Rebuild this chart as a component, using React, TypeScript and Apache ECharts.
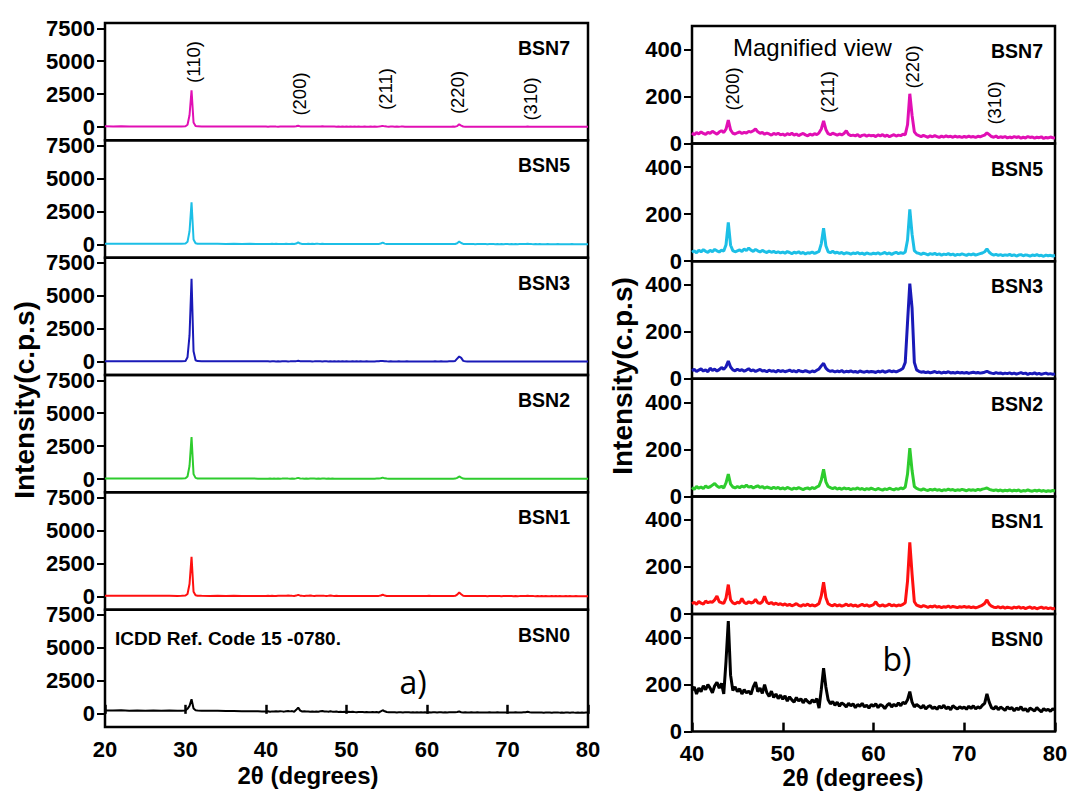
import React, { useEffect, useRef } from "react";
import * as echarts from "echarts";

// ---------- data ----------
const SAMPLES = ["BSN7", "BSN5", "BSN3", "BSN2", "BSN1", "BSN0"];
const COLORS = ["#e10fb4", "#1cbfe6", "#1a1ab8", "#2ecc2e", "#ff1010", "#000000"];

// 2θ points of the low-angle part (20–40°)
const X_WIDE = [20, 21, 22, 23, 24, 25, 26, 27, 28, 29, 29.5, 30, 30.25, 30.5, 30.75, 31, 31.25, 31.5, 32, 33, 34, 35, 36, 37, 38, 39, 39.5];
// scan of 40–80° with a 0.25° step
const FINE_START = 40;
const FINE_STEP = 0.25;

const BSN7_WIDE = [60, 55, 62, 50, 58, 52, 56, 48, 54, 50, 58, 70, 180, 900, 2800, 350, 90, 60, 52, 48, 55, 46, 50, 44, 49, 45, 43];
const BSN5_WIDE = [55, 60, 50, 57, 48, 54, 51, 47, 53, 49, 55, 68, 200, 1000, 3200, 380, 95, 58, 50, 47, 52, 45, 48, 43, 47, 42, 41];
const BSN3_WIDE = [50, 45, 52, 44, 48, 42, 47, 43, 46, 41, 48, 65, 350, 2000, 6300, 800, 120, 55, 45, 42, 46, 40, 43, 38, 42, 37, 36];
const BSN2_WIDE = [52, 48, 55, 46, 50, 44, 49, 45, 47, 43, 50, 66, 200, 1000, 3200, 380, 95, 56, 48, 44, 47, 42, 45, 40, 44, 39, 38];
const BSN1_WIDE = [58, 52, 60, 50, 55, 48, 53, 47, 51, 46, 54, 70, 190, 950, 3000, 360, 92, 58, 50, 46, 49, 44, 47, 42, 46, 43, 44];
const BSN0_WIDE = [260, 245, 270, 240, 255, 235, 250, 230, 245, 225, 240, 260, 380, 600, 1100, 400, 270, 250, 240, 230, 225, 215, 210, 200, 195, 188, 182];

const BSN7_FINE = [
  45, 38, 47, 41, 50, 43, 39, 48, 44, 52, 46, 40, 49, 55, 47, 62, 100, 58, 44, 41,
  46, 50, 43, 48, 45, 52, 49, 55, 62, 50, 44, 47, 40, 45, 41, 36, 43, 39, 44, 37,
  40, 35, 42, 38, 44, 36, 41, 34, 39, 43, 37, 33, 40, 36, 42, 38, 46, 62, 97, 60,
  42, 38, 44, 40, 36, 41, 37, 43, 55, 39, 34, 36, 33, 38, 30, 35, 37, 32, 36, 33,
  35, 30, 37, 33, 38, 31, 36, 29, 34, 38, 32, 36, 34, 40, 38, 80, 212, 120, 50, 38,
  34, 30, 35, 31, 27, 33, 29, 34, 30, 26, 32, 28, 33, 29, 31, 27, 32, 28, 30, 26,
  31, 27, 32, 28, 30, 26, 31, 29, 33, 36, 46, 38, 30, 27, 32, 25, 29, 26, 30, 24,
  28, 25, 30, 26, 29, 23, 27, 24, 30, 26, 28, 23, 27, 25, 29, 22, 26, 24, 28, 25,
  24,
];
const BSN5_FINE = [
  38, 44, 36, 47, 40, 49, 42, 38, 46, 41, 50, 44, 39, 47, 43, 70, 165, 68, 45, 40,
  44, 48, 41, 52, 45, 56, 47, 42, 50, 44, 39, 46, 41, 37, 43, 38, 42, 36, 40, 35,
  39, 34, 41, 37, 32, 38, 35, 40, 33, 37, 31, 36, 34, 39, 33, 37, 42, 75, 140, 66,
  40, 36, 42, 35, 38, 33, 37, 31, 36, 34, 30, 35, 32, 37, 31, 34, 29, 35, 32, 30,
  34, 31, 36, 30, 33, 37, 31, 35, 29, 34, 38, 32, 36, 33, 39, 90, 220, 115, 45, 36,
  33, 29, 34, 31, 27, 32, 29, 33, 28, 31, 26, 30, 28, 32, 27, 30, 25, 29, 27, 31,
  28, 25, 30, 27, 31, 26, 29, 32, 35, 40, 52, 38, 30, 26, 29, 25, 28, 24, 27, 25,
  29, 24, 27, 22, 26, 28, 23, 27, 25, 22, 26, 24, 28, 23, 25, 21, 26, 23, 25, 22,
  24,
];
const BSN3_FINE = [
  34, 40, 31, 37, 42, 33, 38, 30, 45, 36, 41, 33, 39, 48, 40, 52, 75, 50, 38, 34,
  41, 35, 39, 32, 37, 43, 34, 38, 31, 36, 40, 33, 35, 30, 37, 32, 34, 29, 36, 31,
  35, 30, 33, 37, 31, 34, 29, 36, 32, 30, 35, 31, 28, 33, 30, 36, 42, 55, 66, 45,
  36, 32, 34, 29, 33, 30, 35, 28, 32, 30, 34, 29, 31, 27, 33, 30, 28, 32, 29, 31,
  30, 27, 32, 29, 34, 28, 31, 35, 30, 33, 29, 34, 38, 45, 70, 240, 405, 300, 70, 38,
  32, 28, 30, 26, 29, 25, 28, 31, 26, 29, 24, 28, 26, 30, 25, 27, 24, 28, 25, 27,
  24, 27, 23, 26, 28, 25, 27, 24, 26, 28, 32, 27, 24, 22, 26, 23, 25, 21, 24, 22,
  25, 21, 24, 20, 23, 26, 22, 24, 19, 23, 21, 25, 20, 23, 19, 22, 24, 20, 22, 19,
  21,
];
const BSN2_FINE = [
  38, 30, 42, 35, 40, 33, 45, 37, 41, 48, 55, 44, 38, 43, 36, 58, 95, 52, 40, 36,
  42, 37, 44, 40, 48, 39, 43, 36, 41, 45, 38, 42, 35, 40, 37, 33, 39, 34, 38, 32,
  36, 31, 38, 34, 30, 35, 32, 37, 33, 29, 34, 36, 31, 38, 33, 40, 45, 70, 115, 62,
  42, 37, 33, 38, 31, 35, 30, 36, 32, 34, 29, 33, 31, 36, 30, 34, 28, 33, 30, 35,
  31, 28, 34, 30, 27, 32, 29, 35, 31, 28, 33, 30, 36, 32, 40, 95, 205, 110, 42, 34,
  30, 27, 32, 28, 25, 30, 27, 31, 26, 29, 24, 28, 26, 31, 27, 29, 25, 28, 26, 30,
  27, 24, 29, 26, 28, 25, 30, 27, 31, 33, 36, 30, 27, 25, 28, 24, 27, 23, 26, 24,
  28, 23, 26, 24, 27, 21, 25, 23, 28, 24, 22, 26, 23, 27, 22, 25, 21, 24, 22, 25,
  23,
];
const BSN1_FINE = [
  44, 50, 41, 53, 46, 42, 55, 48, 52, 50, 60, 76, 52, 48, 45, 68, 125, 60, 47, 43,
  50, 47, 66, 49, 44, 52, 47, 50, 62, 48, 45, 52, 75, 50, 44, 49, 41, 46, 40, 44,
  38, 43, 36, 41, 35, 39, 44, 37, 33, 40, 36, 42, 35, 39, 34, 38, 45, 78, 135, 70,
  44, 38, 35, 41, 34, 39, 33, 37, 42, 35, 40, 34, 38, 32, 37, 41, 35, 39, 33, 36,
  40, 52, 38, 34, 39, 33, 37, 42, 35, 39, 34, 38, 36, 41, 48, 140, 305, 170, 52, 38,
  34, 30, 36, 32, 28, 33, 30, 35, 29, 32, 27, 31, 29, 34, 28, 32, 30, 27, 31, 29,
  32, 28, 31, 27, 30, 26, 29, 33, 38, 45, 60, 42, 33, 29, 27, 31, 26, 30, 25, 29,
  27, 24, 29, 26, 31, 25, 28, 23, 27, 30, 24, 28, 22, 26, 29, 24, 27, 23, 26, 22,
  25,
];
const BSN0_FINE = [
  175, 190, 160, 185, 170, 195, 178, 200, 185, 165, 195, 210, 185, 205, 160, 300, 470, 240, 175, 190,
  170, 182, 160, 178, 165, 172, 158, 190, 210, 170, 185, 162, 200, 165, 150, 172, 145, 160, 140, 155,
  138, 152, 130, 148, 135, 125, 145, 130, 140, 122, 138, 128, 120, 135, 125, 140, 100, 180, 270, 190,
  135, 118, 128, 112, 125, 108, 122, 115, 105, 120, 110, 118, 102, 115, 108, 120, 105, 112, 100, 115,
  108, 118, 102, 115, 110, 98, 112, 120, 105, 116, 108, 122, 110, 125, 118, 135, 170, 125, 105, 115,
  108, 100, 112, 96, 106, 110, 98, 104, 95, 108, 100, 112, 97, 105, 93, 110, 102, 96, 106, 99,
  104, 95, 108, 98, 110, 96, 105, 100, 112, 120, 160, 125, 102, 96, 108, 93, 104, 98, 90, 105,
  96, 102, 88, 100, 93, 106, 90, 98, 85, 100, 94, 88, 102, 92, 84, 98, 90, 95, 86, 97,
  92,
];

const WIDE = [BSN7_WIDE, BSN5_WIDE, BSN3_WIDE, BSN2_WIDE, BSN1_WIDE, BSN0_WIDE];
const FINE = [BSN7_FINE, BSN5_FINE, BSN3_FINE, BSN2_FINE, BSN1_FINE, BSN0_FINE];

const LEFT_X_RANGE = [20, 80];
const RIGHT_X_RANGE = [40, 80];
const LEFT_Y_TICKS = [0, 2500, 5000, 7500];
const RIGHT_Y_TICKS = [0, 200, 400];
const LEFT_Y_RANGE = [-1000, 7900];
const RIGHT_Y_RANGE = [0, 500];

const PEAKS_LEFT = [
  { hkl: "(110)", deg: 30.95, y: 62 },
  { hkl: "(200)", deg: 44.2, y: 94 },
  { hkl: "(211)", deg: 54.85, y: 89 },
  { hkl: "(220)", deg: 63.85, y: 92.5 },
  { hkl: "(310)", deg: 72.9, y: 99 },
];
const PEAKS_RIGHT = [
  { hkl: "(200)", deg: 44.5, y: 89 },
  { hkl: "(211)", deg: 54.9, y: 92 },
  { hkl: "(220)", deg: 64.35, y: 67 },
  { hkl: "(310)", deg: 73.3, y: 103 },
];

// ---------- layout ----------
const FONT = "'Liberation Sans', Arial, sans-serif";
const L = { left: 105, right: 588, top: 23, bottom: 727 };
const R = { left: 692, right: 1055, top: 26, bottom: 731.6 };
const LH = (L.bottom - L.top) / 6;
const RH = (R.bottom - R.top) / 6;

function seriesData(k: number, fineOnly: boolean): number[][] {
  const fine = FINE[k].map((y, i) => [FINE_START + FINE_STEP * i, y]);
  if (fineOnly) return fine;
  return X_WIDE.map((x, i) => [x, WIDE[k][i]]).concat(fine);
}

function buildOption(): any {
  const grid: any[] = [];
  const xAxis: any[] = [];
  const yAxis: any[] = [];
  const series: any[] = [];
  const labelStyle = {
    fontSize: 22,
    fontWeight: "bold",
    fontFamily: FONT,
    color: "#000",
    lineHeight: 16,
    formatter: (v: number) => String(v),
  };

  for (let p = 0; p < 2; p++) {
    const isLeft = p === 0;
    const box = isLeft ? L : R;
    const h = isLeft ? LH : RH;
    const xr = isLeft ? LEFT_X_RANGE : RIGHT_X_RANGE;
    const yr = isLeft ? LEFT_Y_RANGE : RIGHT_Y_RANGE;
    const yt = isLeft ? LEFT_Y_TICKS : RIGHT_Y_TICKS;
    for (let k = 0; k < 6; k++) {
      const idx = p * 6 + k;
      const bottom = k === 5;
      grid.push({
        left: box.left,
        top: box.top + k * h,
        width: box.right - box.left,
        height: h,
        show: true,
        borderColor: "#000",
        borderWidth: 2.5,
        backgroundColor: "transparent",
        containLabel: false,
      });
      xAxis.push({
        type: "value",
        gridIndex: idx,
        min: xr[0],
        max: xr[1],
        interval: 10,
        axisLine: { show: false },
        splitLine: { show: false },
        axisTick: { show: bottom, inside: true, length: 9, lineStyle: { color: "#000", width: 2.5 } },
        axisLabel: { show: bottom, margin: 14, ...labelStyle },
      });
      yAxis.push({
        type: "value",
        gridIndex: idx,
        min: yr[0],
        max: yr[1],
        axisLine: { show: false },
        splitLine: { show: false },
        axisTick: { show: true, length: 8, customValues: yt, lineStyle: { color: "#000", width: 2 } },
        axisLabel: { show: true, margin: 10, customValues: yt, ...labelStyle },
      });
      series.push({
        type: "line",
        name: SAMPLES[k] + (isLeft ? "" : " (magnified)"),
        xAxisIndex: idx,
        yAxisIndex: idx,
        data: seriesData(k, !isLeft),
        showSymbol: false,
        symbol: "none",
        clip: true,
        silent: true,
        lineStyle: { color: COLORS[k], width: isLeft ? 2 : 3 },
      });
    }
  }

  return {
    animation: false,
    backgroundColor: "#fff",
    grid,
    xAxis,
    yAxis,
    series,
  };
}

function text(str: string, x: number, y: number, o: any = {}): any {
  return {
    type: "text",
    x,
    y,
    rotation: o.rotation || 0,
    silent: true,
    z: 100,
    style: {
      text: str,
      fill: "#000",
      fontSize: o.size || 20,
      fontWeight: o.weight || "normal",
      fontFamily: o.family || FONT,
      align: o.align || "center",
      verticalAlign: "middle",
    },
  };
}

function buildGraphics(chart: any): any[] {
  const g: any[] = [];
  for (let k = 0; k < 6; k++) {
    g.push(text(SAMPLES[k], 570, L.top + k * LH + 25, { size: 19.5, weight: "bold", align: "right" }));
    g.push(text(SAMPLES[k], 1043, R.top + k * RH + 25, { size: 19.5, weight: "bold", align: "right" }));
  }
  PEAKS_LEFT.forEach((pk) => {
    const px = chart.convertToPixel({ xAxisIndex: 0 }, pk.deg);
    g.push(text(pk.hkl, px, pk.y, { size: 18.5, rotation: Math.PI / 2 }));
  });
  PEAKS_RIGHT.forEach((pk) => {
    const px = chart.convertToPixel({ xAxisIndex: 6 }, pk.deg);
    g.push(text(pk.hkl, px, pk.y, { size: 18.5, rotation: Math.PI / 2 }));
  });
  g.push(text("Magnified view", 733, 47, { size: 24, align: "left" }));
  g.push(text("ICDD Ref. Code 15 -0780.", 115, 638, { size: 19, weight: "bold", align: "left" }));
  g.push(text("a)", 413, 681, { size: 32, family: "'Open Sans', sans-serif" }));
  g.push(text("b)", 897, 658, { size: 32, family: "'Open Sans', sans-serif" }));
  g.push(text("2θ (degrees)", 308, 775, { size: 24, weight: "bold" }));
  g.push(text("2θ (degrees)", 853, 777, { size: 24, weight: "bold" }));
  g.push(text("Intensity(c.p.s)", 24, 400, { size: 28, weight: "bold", rotation: Math.PI / 2 }));
  g.push(text("Intensity(c.p.s)", 622, 376, { size: 28, weight: "bold", rotation: Math.PI / 2 }));
  return g;
}

export default function App() {
  const ref = useRef<HTMLDivElement>(null);
  useEffect(() => {
    const chart = echarts.init(ref.current as HTMLDivElement, null, { renderer: "svg" });
    chart.setOption(buildOption());
    chart.setOption({ graphic: buildGraphics(chart) });
    return () => chart.dispose();
  }, []);
  return (
    <div
      ref={ref}
      style={{ position: "absolute", left: 0, top: 0, width: 1071, height: 792, background: "#fff" }}
    />
  );
}
